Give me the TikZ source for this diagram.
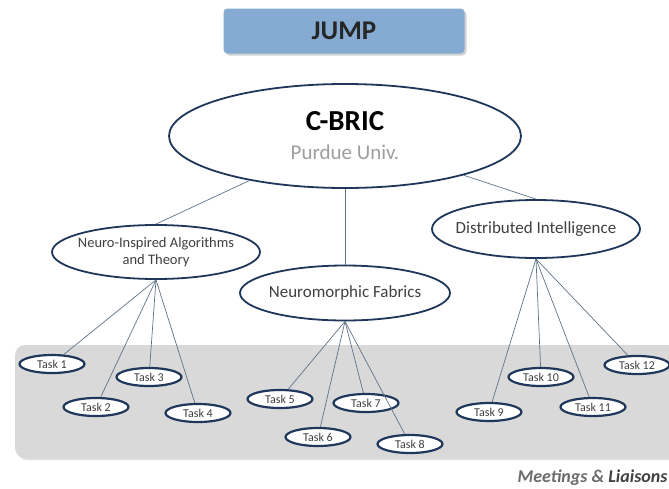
\documentclass[tikz,border=0pt]{standalone}
\usepackage{fontspec}
\setmainfont{Carlito}
\usetikzlibrary{shapes.geometric, shadows, positioning}
\definecolor{jumpblue}{RGB}{133, 171, 211}
\definecolor{navy}{RGB}{30, 55, 90}
\definecolor{linkgray}{RGB}{95, 115, 135}
\definecolor{bandgray}{RGB}{217, 217, 217}
\definecolor{textgray}{RGB}{64, 64, 64}

\begin{document}
\begin{tikzpicture}[
    x=1pt, y=-1pt,
    jump/.style={rectangle, rounded corners=4pt, fill=jumpblue, minimum width=241pt, minimum height=45pt, drop shadow={opacity=0.35, shadow xshift=2pt, shadow yshift=-2pt}, font=\fontsize{27}{30}\selectfont\bfseries, text=black!85},
    center/.style={ellipse, draw=navy, line width=1.8pt, fill=white, inner sep=0pt, align=center},
    area/.style={ellipse, draw=navy, line width=1.8pt, fill=white, inner sep=0pt, minimum width=208pt, minimum height=54pt, text=textgray, font=\fontsize{17}{20}\selectfont, align=center},
    task/.style={ellipse, draw=navy, line width=2.2pt, fill=white, inner sep=0pt, minimum width=65pt, minimum height=18pt, text=textgray, font=\fontsize{12}{14}\selectfont},
    link/.style={draw=linkgray, line width=0.7pt}
]
\useasboundingbox (0,0) rectangle (669,488);

% Task band
\begin{scope}
\clip (0,0) rectangle (669,488);
\fill[bandgray, rounded corners=10pt, drop shadow={opacity=0.25, shadow xshift=2pt, shadow yshift=-2pt}] (15,345) rectangle (700,458);
\end{scope}

% Title
\node[jump] (title) at (344,31) {JUMP};

% Center
\node[center, minimum width=352pt, minimum height=104pt, font=\fontsize{29}{29}\selectfont] (cbric) at (345,136) {\bfseries C-BRIC\\{\fontsize{21}{29}\selectfont\color{black!38}Purdue Univ.}};

% Thrusts
\node[area, font=\fontsize{14.5}{17}\selectfont] (neuro) at (156,252) {\makebox[0pt]{Neuro-Inspired Algorithms}\\\makebox[0pt]{and Theory}};
\node[area, minimum width=210pt, minimum height=55pt] (fabric) at (345,293) {\makebox[0pt]{Neuromorphic Fabrics}};
\node[area, minimum height=58pt] (distrib) at (536,229) {\makebox[0pt]{Distributed Intelligence}};

% Tasks
\node[task] (t1) at (52,364) {Task 1};
\node[task] (t2) at (96,407) {Task 2};
\node[task] (t3) at (149,377) {Task 3};
\node[task] (t4) at (198,413) {Task 4};
\node[task] (t5) at (280,399) {Task 5};
\node[task] (t6) at (318,437) {Task 6};
\node[task] (t7) at (366,403) {Task 7};
\node[task] (t8) at (410,444) {Task 8};
\node[task] (t9) at (489,412) {Task 9};
\node[task] (t10) at (541,377) {Task 10};
\node[task] (t11) at (593,407) {Task 11};
\node[task] (t12) at (637,365) {Task 12};

% Links
\draw[link] (cbric) -- (neuro.north);
\draw[link] (cbric) -- (fabric);
\draw[link] (cbric) -- (distrib.north);
\draw[link] (neuro.south) -- (t1);
\draw[link] (neuro.south) -- (t2);
\draw[link] (neuro.south) -- (t3);
\draw[link] (neuro.south) -- (t4);
\draw[link] (fabric.south) -- (t5);
\draw[link] (fabric.south) -- (t6);
\draw[link] (fabric.south) -- (t7);
\draw[link] (fabric.south) -- (t8);
\draw[link] (distrib.south) -- (t9);
\draw[link] (distrib.south) -- (t10);
\draw[link] (distrib.south) -- (t11);
\draw[link] (distrib.south) -- (t12);

% Footer
\node[anchor=east, font=\fontsize{18}{20}\selectfont\bfseries\itshape] (footer) at (671,478) {\color{black!58}Meetings \& \color{black!75}Liaisons};

\end{tikzpicture}
\end{document}
